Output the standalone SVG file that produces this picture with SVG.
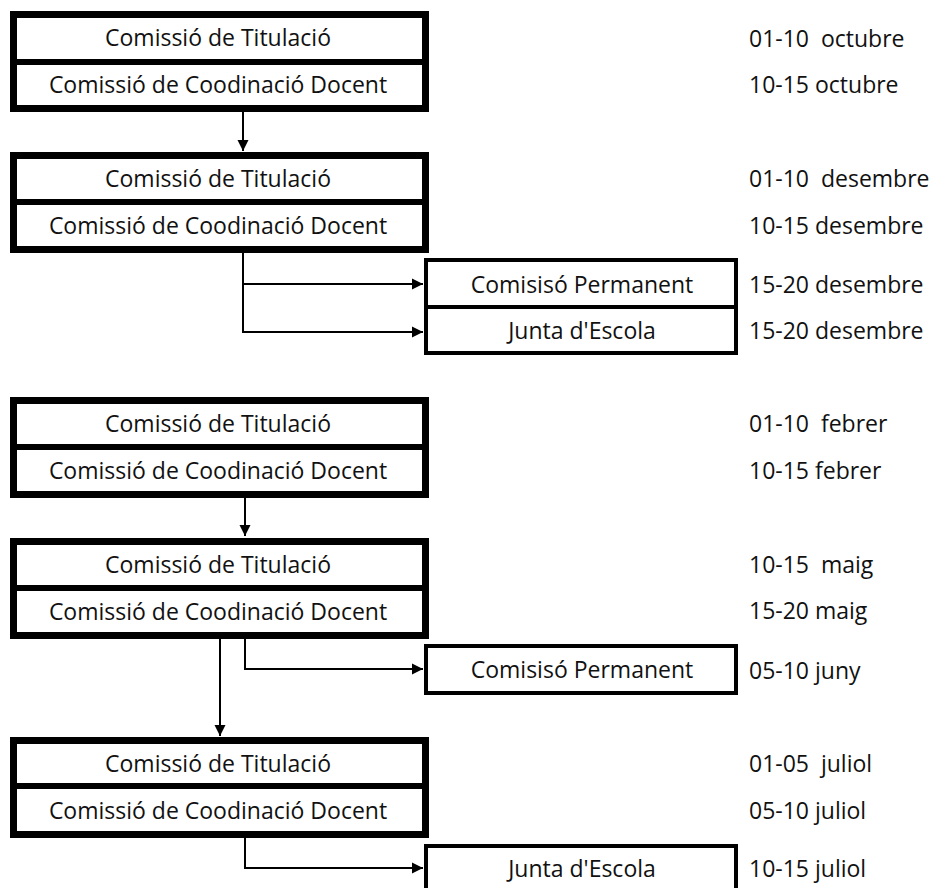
<svg xmlns="http://www.w3.org/2000/svg" width="934" height="888" viewBox="0 0 934 888">
<style>
.big{fill:#fff;stroke:#000;stroke-width:7}
.div{stroke:#000;stroke-width:6}
.sm{fill:#fff;stroke:#000;stroke-width:4}
.sdiv{stroke:#000;stroke-width:4}
text{font-family:"Open Sans","Noto Sans",sans-serif;font-size:23px;fill:#111}
.c{text-anchor:middle}
.con{fill:none;stroke:#000;stroke-width:2}
</style>
<defs>
<marker id="ah" markerUnits="userSpaceOnUse" markerWidth="12" markerHeight="12" refX="11" refY="6" orient="auto">
<path d="M0,0.5 L11,6 L0,11.5 Z" fill="#000"/>
</marker>
</defs>
<rect width="934" height="888" fill="#fff"/>
<g id="connectors">
<path class="con" d="M243,112 V151" marker-end="url(#ah)"/>
<path class="con" d="M243,252 V332 H423" marker-end="url(#ah)"/>
<path class="con" d="M243,284 H423" marker-end="url(#ah)"/>
<path class="con" d="M245,497 V536" marker-end="url(#ah)"/>
<path class="con" d="M220,637 V736" marker-end="url(#ah)"/>
<path class="con" d="M245,637 V669 H423" marker-end="url(#ah)"/>
<path class="con" d="M245,835 V868 H423" marker-end="url(#ah)"/>
</g>
<g id="block-octubre">
<rect class="big" x="13.5" y="14.5" width="412" height="94"/>
<line class="div" x1="10" y1="62" x2="429" y2="62"/>
<text class="c" x="218" y="46">Comissió de Titulació</text>
<text class="c" x="218" y="93">Comissió de Coodinació Docent</text>
</g>
<g id="block-desembre">
<rect class="big" x="13.5" y="155.5" width="412" height="94"/>
<line class="div" x1="10" y1="202" x2="429" y2="202"/>
<text class="c" x="218" y="187">Comissió de Titulació</text>
<text class="c" x="218" y="234">Comissió de Coodinació Docent</text>
</g>
<g id="permanent-desembre">
<rect class="sm" x="426" y="260" width="310" height="47"/>
<text class="c" x="582" y="293">Comisisó Permanent</text>
</g>
<g id="junta-desembre">
<rect class="sm" x="426" y="307" width="310" height="46"/>
<text class="c" x="582" y="339">Junta d'Escola</text>
</g>
<g id="block-febrer">
<rect class="big" x="13.5" y="400.5" width="412" height="94"/>
<line class="div" x1="10" y1="447" x2="429" y2="447"/>
<text class="c" x="218" y="432">Comissió de Titulació</text>
<text class="c" x="218" y="479">Comissió de Coodinació Docent</text>
</g>
<g id="block-maig">
<rect class="big" x="13.5" y="541.5" width="412" height="94"/>
<line class="div" x1="10" y1="588" x2="429" y2="588"/>
<text class="c" x="218" y="573">Comissió de Titulació</text>
<text class="c" x="218" y="620">Comissió de Coodinació Docent</text>
</g>
<g id="permanent-juny">
<rect class="sm" x="426" y="646" width="310" height="47"/>
<text class="c" x="582" y="678">Comisisó Permanent</text>
</g>
<g id="block-juliol">
<rect class="big" x="13.5" y="740.5" width="412" height="94"/>
<line class="div" x1="10" y1="786" x2="429" y2="786"/>
<text class="c" x="218" y="772">Comissió de Titulació</text>
<text class="c" x="218" y="819">Comissió de Coodinació Docent</text>
</g>
<g id="junta-juliol">
<rect class="sm" x="426" y="846" width="310" height="60"/>
<text class="c" x="582" y="877">Junta d'Escola</text>
</g>
<g id="dates">
<text x="749" y="47" xml:space="preserve">01-10  octubre</text>
<text x="749" y="93">10-15 octubre</text>
<text x="749" y="187" xml:space="preserve">01-10  desembre</text>
<text x="749" y="234">10-15 desembre</text>
<text x="749" y="293">15-20 desembre</text>
<text x="749" y="339">15-20 desembre</text>
<text x="749" y="432" xml:space="preserve">01-10  febrer</text>
<text x="749" y="479">10-15 febrer</text>
<text x="749" y="573" xml:space="preserve">10-15  maig</text>
<text x="749" y="619">15-20 maig</text>
<text x="749" y="679">05-10 juny</text>
<text x="749" y="772" xml:space="preserve">01-05  juliol</text>
<text x="749" y="819">05-10 juliol</text>
<text x="749" y="877">10-15 juliol</text>
</g>
</svg>
